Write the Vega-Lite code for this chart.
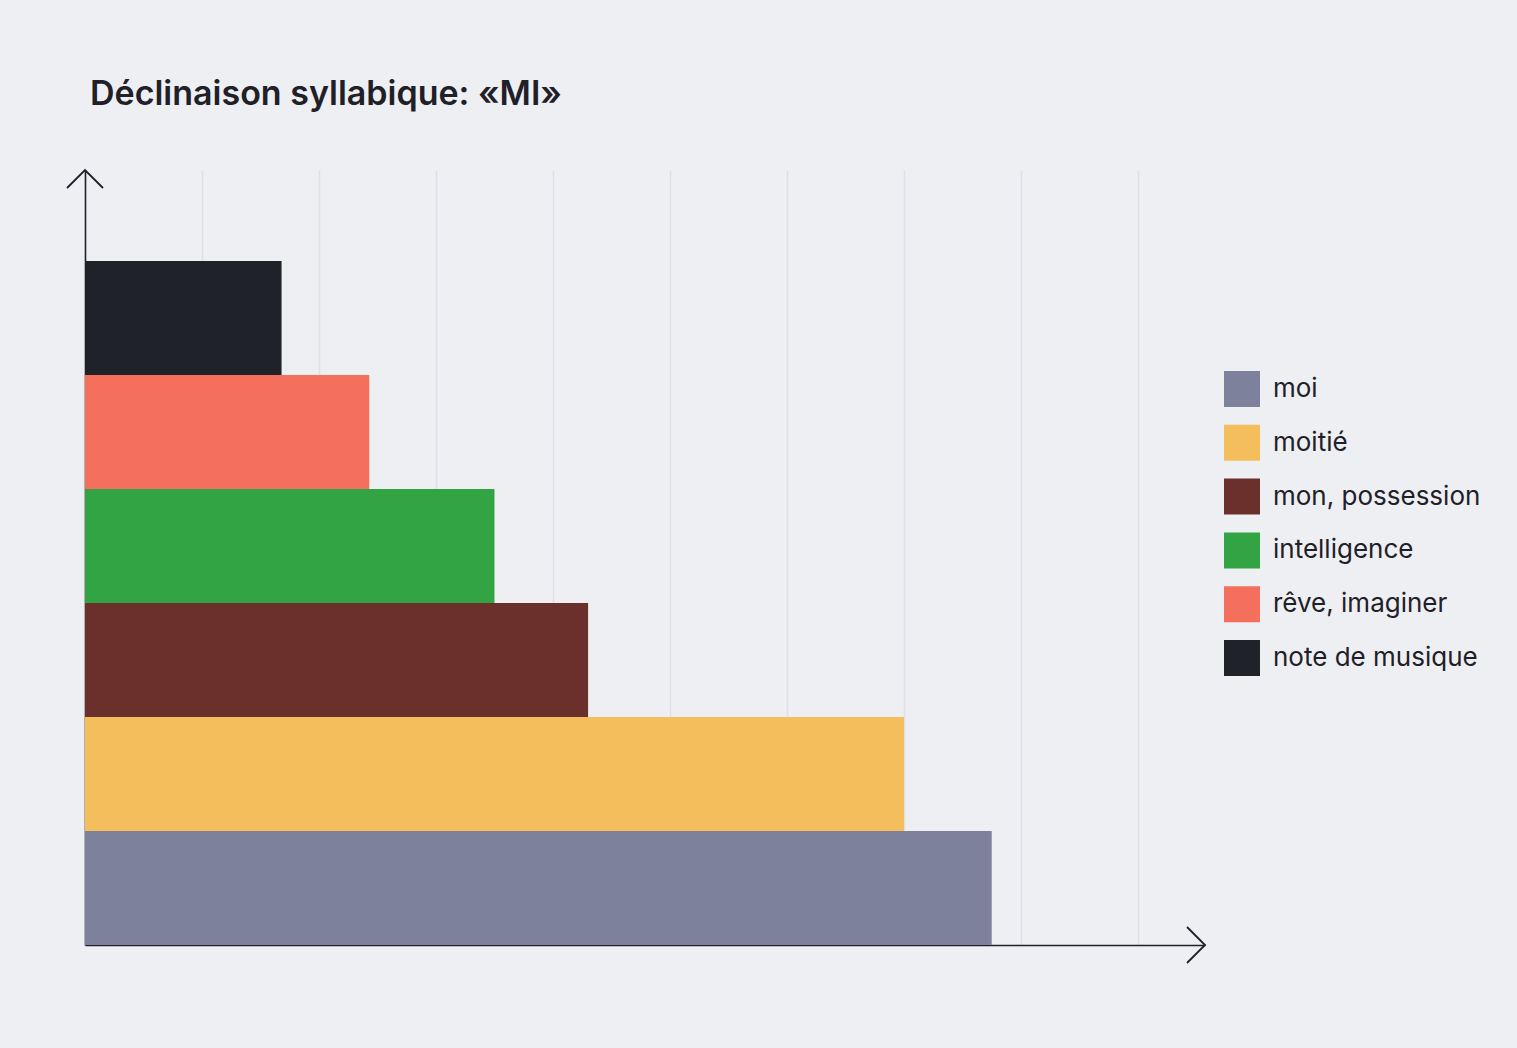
{
  "$schema": "https://vega.github.io/schema/vega-lite/v6.json",
  "width": 1120,
  "height": 775,
  "autosize": {"type": "none"},
  "padding": {"left": 85, "top": 170, "right": 312, "bottom": 103},
  "background": "#EEEFF3",
  "title": {
    "text": "Déclinaison syllabique: «MI»",
    "anchor": "start",
    "frame": "group",
    "font": "Inter",
    "fontSize": 34,
    "fontWeight": 600,
    "color": "#1F2028",
    "baseline": "alphabetic",
    "offset": 27,
    "dx": 5
  },
  "config": {
    "view": {"stroke": null},
    "font": "Inter"
  },
  "layer": [
    {
      "data": {
        "values": [
          {"label": "moi", "value": 7.75},
          {"label": "moitié", "value": 7.0},
          {"label": "mon, possession", "value": 4.3},
          {"label": "intelligence", "value": 3.5},
          {"label": "rêve, imaginer", "value": 2.43},
          {"label": "note de musique", "value": 1.68}
        ]
      },
      "mark": {"type": "bar", "strokeWidth": 0},
      "encoding": {
        "y": {
          "field": "label",
          "type": "nominal",
          "sort": ["note de musique", "rêve, imaginer", "intelligence", "mon, possession", "moitié", "moi"],
          "scale": {"paddingInner": 0, "paddingOuter": 0.399, "align": 1},
          "axis": {"title": null, "labels": false, "ticks": false, "grid": false, "domain": true, "domainColor": "#1F2028", "domainWidth": 1.6}
        },
        "x": {
          "field": "value",
          "type": "quantitative",
          "scale": {"domain": [0, 9.573], "nice": false, "zero": true},
          "axis": {"title": null, "labels": false, "ticks": false, "grid": true, "gridColor": "#DFE0E5", "gridWidth": 1.5, "values": [1, 2, 3, 4, 5, 6, 7, 8, 9], "domain": true, "domainColor": "#1F2028", "domainWidth": 1.6}
        },
        "color": {
          "field": "label",
          "type": "nominal",
          "scale": {
            "domain": ["moi", "moitié", "mon, possession", "intelligence", "rêve, imaginer", "note de musique"],
            "range": ["#7E819B", "#F3BE5B", "#6B302B", "#32A443", "#F4705D", "#20222A"]
          },
          "legend": {
            "title": null,
            "orient": "none",
            "legendX": 1139,
            "legendY": 201,
            "padding": 0,
            "symbolType": "square",
            "symbolSize": 1296,
            "symbolStrokeWidth": 0,
            "symbolOpacity": 1,
            "labelFont": "Inter",
            "labelFontSize": 26,
            "labelColor": "#1F2028",
            "labelOffset": 13,
            "rowPadding": 17.8,
            "labelLimit": 400
          }
        }
      }
    },
    {
      "data": {"values": [{}]},
      "mark": {"type": "point", "shape": "M-1,1L0,0L1,1", "size": 1296, "filled": false, "stroke": "#1F2028", "strokeWidth": 1.8, "opacity": 1},
      "encoding": {
        "x": {"datum": 0, "type": "quantitative"},
        "y": {"datum": 1, "type": "quantitative", "scale": {"domain": [0, 1], "nice": false}, "axis": null}
      }
    },
    {
      "data": {"values": [{}]},
      "mark": {"type": "point", "shape": "M-1,-1L0,0L-1,1", "size": 1296, "filled": false, "stroke": "#1F2028", "strokeWidth": 1.8, "opacity": 1},
      "encoding": {
        "x": {"datum": 9.573, "type": "quantitative"},
        "y": {"datum": 0, "type": "quantitative", "scale": {"domain": [0, 1], "nice": false}, "axis": null}
      }
    }
  ],
  "resolve": {"scale": {"y": "independent"}}
}
